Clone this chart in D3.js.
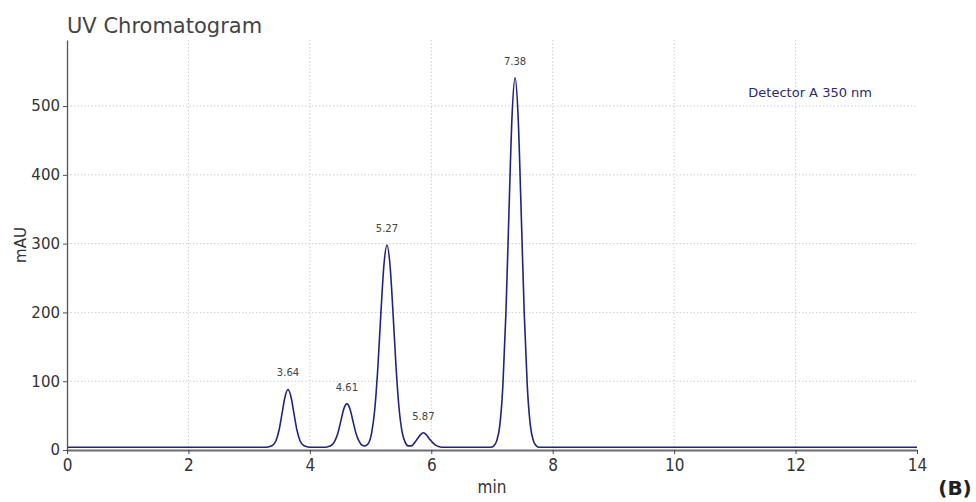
<!DOCTYPE html>
<html>
<head>
<meta charset="utf-8">
<script src="https://cdn.jsdelivr.net/npm/d3@7"></script>
<style>
  body { margin: 0; background: #fff; }
  text { font-family: "DejaVu Sans", sans-serif; }
</style>
</head>
<body>
<svg id="uv-chrom" width="976" height="502"></svg>
<script>
const margin = { top: 40, right: 59, bottom: 52, left: 67 };

// trace: retention time (min) / absorbance (mAU)
const times = [
  0, 1, 2, 3, 3.29, 3.34, 3.39, 3.44, 3.49, 3.54, 3.59, 3.64, 3.69, 3.74, 3.79, 3.84, 3.89, 3.94, 3.99,
  4.21, 4.26, 4.31, 4.36, 4.41, 4.46, 4.51, 4.56, 4.61, 4.66, 4.71, 4.76, 4.81, 4.86, 4.91, 4.96,
  5.02, 5.07, 5.12, 5.17, 5.22, 5.27, 5.32, 5.37, 5.42, 5.47, 5.52, 5.57, 5.62, 5.67,
  5.72, 5.77, 5.82, 5.87, 5.92, 5.97, 6.02, 6.07, 6.12, 6.17,
  6.98, 7.03, 7.08, 7.13, 7.18, 7.23, 7.28, 7.33, 7.38, 7.43, 7.48, 7.53, 7.58, 7.63, 7.68, 7.73, 7.78,
  8, 10, 12, 14
];
const mAU = [
  4, 4, 4, 4, 4, 5, 7, 13, 28, 52, 77, 88, 77, 52, 28, 13, 7, 5, 4,
  4, 4, 5, 7, 13, 24, 42, 60, 67, 60, 42, 24, 13, 7, 6, 9,
  26, 60, 120, 199, 269, 298, 269, 199, 120, 60, 26, 11, 6, 6,
  10, 16, 22, 25, 22, 16, 11, 7, 5, 4,
  4, 6, 14, 37, 95, 201, 348, 485, 541, 485, 348, 201, 95, 37, 14, 6, 4,
  4, 4, 4, 4
];

const peakTimes = [3.64, 4.61, 5.27, 5.87, 7.38];
const peakHeights = [88, 67, 298, 25, 541];

const xTicks = [0, 2, 4, 6, 8, 10, 12, 14];
const yTicks = [0, 100, 200, 300, 400, 500];

const svg = d3.select("#uv-chrom");
const width = svg.attr("width") - margin.left - margin.right;
const height = svg.attr("height") - margin.top - margin.bottom;
const g = svg.append("g").attr("transform", `translate(${margin.left},${margin.top})`);

const x = d3.scaleLinear().domain([0, 14]).range([0, width]);
const y = d3.scaleLinear().domain([0, 596]).range([height, 0]);

// grid
g.append("g").selectAll("line").data(xTicks.filter((d) => d > 0 && d < 14)).join("line")
  .attr("x1", (d) => x(d)).attr("x2", (d) => x(d))
  .attr("y1", 0).attr("y2", height)
  .attr("stroke", "#cfcfcf").attr("stroke-dasharray", "1.5,2");
g.append("g").selectAll("line").data(yTicks.filter((d) => d > 0)).join("line")
  .attr("x1", 0).attr("x2", width)
  .attr("y1", (d) => y(d)).attr("y2", (d) => y(d))
  .attr("stroke", "#cfcfcf").attr("stroke-dasharray", "1.5,2");

// trace
const trace = times.map((t, i) => ({ t, v: mAU[i] }));
const line = d3.line().x((d) => x(d.t)).y((d) => y(d.v)).curve(d3.curveMonotoneX);
g.append("path").datum(trace)
  .attr("d", line)
  .attr("fill", "none")
  .attr("stroke", "#23237e")
  .attr("stroke-width", 1.6);

// axes
const xAxis = g.append("g").attr("transform", `translate(0,${height})`)
  .call(d3.axisBottom(x).tickValues(xTicks).tickFormat(d3.format("d")).tickSize(4).tickSizeOuter(0));
xAxis.select(".domain").attr("stroke", "#6a6a7a").attr("stroke-width", 2);
xAxis.selectAll(".tick line").attr("stroke", "#444");
xAxis.selectAll(".tick text")
  .attr("font-family", "'DejaVu Sans Condensed', 'DejaVu Sans', sans-serif")
  .style("font-stretch", "condensed")
  .attr("font-size", 17).attr("fill", "#333").attr("dy", "0.85em");

const yAxis = g.append("g")
  .call(d3.axisLeft(y).tickValues(yTicks).tickSize(4).tickSizeOuter(0));
yAxis.select(".domain").attr("stroke", "#555").attr("stroke-width", 1.3);
yAxis.selectAll(".tick line").attr("stroke", "#555");
yAxis.selectAll(".tick text").attr("font-size", 15).attr("fill", "#333");

// peak labels
g.append("g").selectAll("text").data(peakTimes).join("text")
  .attr("x", (d) => x(d))
  .attr("y", (d, i) => y(peakHeights[i]) - 13)
  .attr("text-anchor", "middle")
  .attr("font-size", 10)
  .attr("fill", "#444")
  .text((d) => d.toFixed(2));

// titles
svg.append("text").attr("x", 67).attr("y", 33)
  .attr("font-size", 21).attr("fill", "#444").text("UV Chromatogram");
svg.append("text").attr("transform", "translate(26,245) rotate(-90)")
  .attr("text-anchor", "middle").attr("font-size", 15).attr("fill", "#333").text("mAU");
svg.append("text").attr("x", margin.left + width / 2).attr("y", 493)
  .attr("text-anchor", "middle").attr("font-size", 17).attr("fill", "#333")
  .attr("font-family", "'DejaVu Sans Condensed', 'DejaVu Sans', sans-serif")
  .style("font-stretch", "condensed").text("min");
svg.append("text").attr("x", 872).attr("y", 97)
  .attr("text-anchor", "end").attr("font-size", 13).attr("fill", "#2a2a6e")
  .text("Detector A 350 nm");
svg.append("text").attr("x", 955).attr("y", 495)
  .attr("text-anchor", "middle").attr("font-size", 20).attr("font-weight", "bold")
  .attr("fill", "#222").attr("font-family", "'Liberation Serif', 'DejaVu Serif', serif").text("(B)");
</script>
</body>
</html>
